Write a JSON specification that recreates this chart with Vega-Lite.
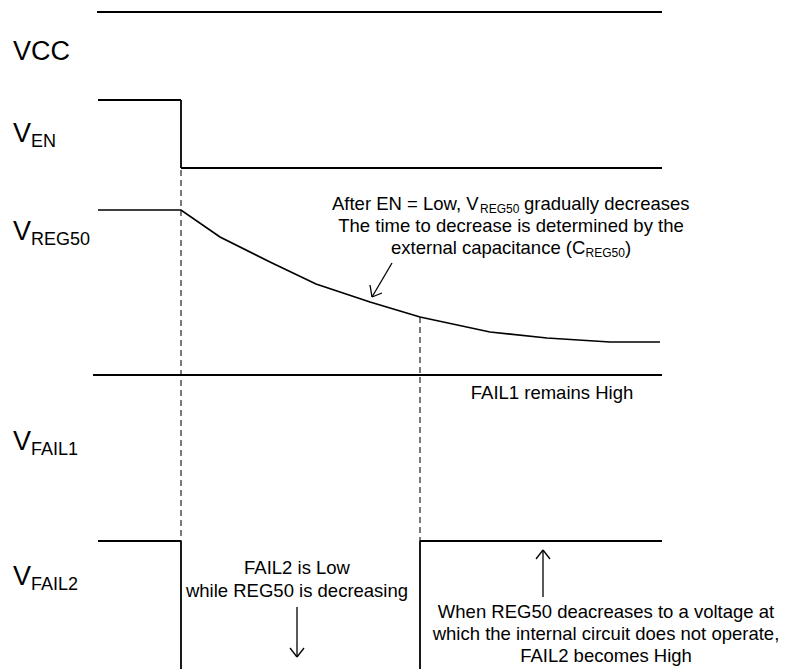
{
  "$schema": "https://vega.github.io/schema/vega-lite/v6.json",
  "width": 785,
  "height": 669,
  "autosize": "none",
  "padding": 0,
  "background": "white",
  "config": {"view": {"stroke": null}, "text": {"font": "Liberation Sans", "color": "#000000", "baseline": "alphabetic"}},
  "datasets": {
    "signals": [
      {"t": 97, "v": 12, "t2": 662, "v2": 12},
      {"t": 98, "v": 100, "t2": 181, "v2": 100},
      {"t": 181, "v": 100, "t2": 181, "v2": 168},
      {"t": 181, "v": 168, "t2": 662, "v2": 168},
      {"t": 93, "v": 375, "t2": 662, "v2": 375},
      {"t": 98, "v": 541, "t2": 181, "v2": 541},
      {"t": 181, "v": 541, "t2": 181, "v2": 669},
      {"t": 420, "v": 669, "t2": 420, "v2": 541},
      {"t": 420, "v": 541, "t2": 662, "v2": 541}
    ],
    "arrows": [
      {"t": 297, "v": 607, "t2": 297, "v2": 657},
      {"t": 290, "v": 648, "t2": 297, "v2": 657},
      {"t": 304, "v": 648, "t2": 297, "v2": 657},
      {"t": 543, "v": 597, "t2": 543, "v2": 550},
      {"t": 536, "v": 559, "t2": 543, "v2": 550},
      {"t": 550, "v": 559, "t2": 543, "v2": 550},
      {"t": 392, "v": 263, "t2": 372, "v2": 297},
      {"t": 370, "v": 285, "t2": 372, "v2": 297},
      {"t": 382, "v": 293, "t2": 372, "v2": 297}
    ],
    "dashed": [
      {"t": 181, "v": 170, "t2": 181, "v2": 541},
      {"t": 420, "v": 317, "t2": 420, "v2": 541}
    ],
    "reg50": [
      {"t": 98, "v": 210},
      {"t": 181, "v": 210},
      {"t": 220, "v": 237},
      {"t": 270, "v": 262},
      {"t": 316, "v": 284},
      {"t": 370, "v": 302},
      {"t": 420, "v": 317},
      {"t": 490, "v": 332},
      {"t": 547, "v": 338},
      {"t": 610, "v": 342},
      {"t": 660, "v": 342}
    ],
    "bigLabels": [
      {"t": 13, "v": 60, "label": "VCC"},
      {"t": 13, "v": 142, "label": "V"},
      {"t": 13, "v": 240, "label": "V"},
      {"t": 13, "v": 450, "label": "V"},
      {"t": 13, "v": 585, "label": "V"}
    ],
    "subLabels": [
      {"t": 31, "v": 147, "label": "EN"},
      {"t": 31, "v": 245, "label": "REG50"},
      {"t": 31, "v": 455, "label": "FAIL1"},
      {"t": 31, "v": 590, "label": "FAIL2"}
    ],
    "notesCenter": [
      {"t": 511, "v": 232, "label": "The time to decrease is determined by the"},
      {"t": 552, "v": 399, "label": "FAIL1 remains High"},
      {"t": 297, "v": 574, "label": "FAIL2 is Low"},
      {"t": 297, "v": 597, "label": "while REG50 is decreasing"},
      {"t": 606, "v": 618, "label": "When REG50 deacreases to a voltage at"},
      {"t": 606, "v": 640, "label": "which the internal circuit does not operate,"},
      {"t": 606, "v": 662, "label": "FAIL2 becomes High"}
    ],
    "notesLeft": [
      {"t": 332, "v": 210, "label": "After EN = Low, V"},
      {"t": 524, "v": 210, "label": "gradually decreases"},
      {"t": 391, "v": 254, "label": "external capacitance (C"},
      {"t": 625, "v": 254, "label": ")"}
    ],
    "notesSub": [
      {"t": 480, "v": 213, "label": "REG50"},
      {"t": 585.5, "v": 257, "label": "REG50"}
    ]
  },
  "layer": [
    {
      "data": {"name": "dashed"},
      "mark": {"type": "rule", "strokeDash": [6, 4], "strokeWidth": 1.3, "color": "#333333"},
      "encoding": {
        "x": {"field": "t", "type": "quantitative", "scale": {"domain": [0, 785], "nice": false, "zero": false}, "axis": null},
        "y": {"field": "v", "type": "quantitative", "scale": {"domain": [0, 669], "nice": false, "zero": false, "reverse": true}, "axis": null},
        "x2": {"field": "t2"},
        "y2": {"field": "v2"}
      }
    },
    {
      "data": {"name": "signals"},
      "mark": {"type": "rule", "strokeWidth": 1.8, "color": "#000000"},
      "encoding": {
        "x": {"field": "t", "type": "quantitative", "scale": {"domain": [0, 785], "nice": false, "zero": false}, "axis": null},
        "y": {"field": "v", "type": "quantitative", "scale": {"domain": [0, 669], "nice": false, "zero": false, "reverse": true}, "axis": null},
        "x2": {"field": "t2"},
        "y2": {"field": "v2"}
      }
    },
    {
      "data": {"name": "arrows"},
      "mark": {"type": "rule", "strokeWidth": 1.3, "color": "#000000"},
      "encoding": {
        "x": {"field": "t", "type": "quantitative", "scale": {"domain": [0, 785], "nice": false, "zero": false}, "axis": null},
        "y": {"field": "v", "type": "quantitative", "scale": {"domain": [0, 669], "nice": false, "zero": false, "reverse": true}, "axis": null},
        "x2": {"field": "t2"},
        "y2": {"field": "v2"}
      }
    },
    {
      "data": {"name": "reg50"},
      "mark": {"type": "line", "strokeWidth": 1.7, "color": "#000000"},
      "encoding": {
        "x": {"field": "t", "type": "quantitative", "scale": {"domain": [0, 785], "nice": false, "zero": false}, "axis": null},
        "y": {"field": "v", "type": "quantitative", "scale": {"domain": [0, 669], "nice": false, "zero": false, "reverse": true}, "axis": null}
      }
    },
    {
      "data": {"name": "bigLabels"},
      "mark": {"type": "text", "fontSize": 27, "align": "left"},
      "encoding": {
        "x": {"field": "t", "type": "quantitative", "scale": {"domain": [0, 785], "nice": false, "zero": false}, "axis": null},
        "y": {"field": "v", "type": "quantitative", "scale": {"domain": [0, 669], "nice": false, "zero": false, "reverse": true}, "axis": null},
        "text": {"field": "label"}
      }
    },
    {
      "data": {"name": "subLabels"},
      "mark": {"type": "text", "fontSize": 18, "align": "left"},
      "encoding": {
        "x": {"field": "t", "type": "quantitative", "scale": {"domain": [0, 785], "nice": false, "zero": false}, "axis": null},
        "y": {"field": "v", "type": "quantitative", "scale": {"domain": [0, 669], "nice": false, "zero": false, "reverse": true}, "axis": null},
        "text": {"field": "label"}
      }
    },
    {
      "data": {"name": "notesCenter"},
      "mark": {"type": "text", "fontSize": 18.5, "align": "center"},
      "encoding": {
        "x": {"field": "t", "type": "quantitative", "scale": {"domain": [0, 785], "nice": false, "zero": false}, "axis": null},
        "y": {"field": "v", "type": "quantitative", "scale": {"domain": [0, 669], "nice": false, "zero": false, "reverse": true}, "axis": null},
        "text": {"field": "label"}
      }
    },
    {
      "data": {"name": "notesLeft"},
      "mark": {"type": "text", "fontSize": 18.5, "align": "left"},
      "encoding": {
        "x": {"field": "t", "type": "quantitative", "scale": {"domain": [0, 785], "nice": false, "zero": false}, "axis": null},
        "y": {"field": "v", "type": "quantitative", "scale": {"domain": [0, 669], "nice": false, "zero": false, "reverse": true}, "axis": null},
        "text": {"field": "label"}
      }
    },
    {
      "data": {"name": "notesSub"},
      "mark": {"type": "text", "fontSize": 12, "align": "left"},
      "encoding": {
        "x": {"field": "t", "type": "quantitative", "scale": {"domain": [0, 785], "nice": false, "zero": false}, "axis": null},
        "y": {"field": "v", "type": "quantitative", "scale": {"domain": [0, 669], "nice": false, "zero": false, "reverse": true}, "axis": null},
        "text": {"field": "label"}
      }
    }
  ]
}
